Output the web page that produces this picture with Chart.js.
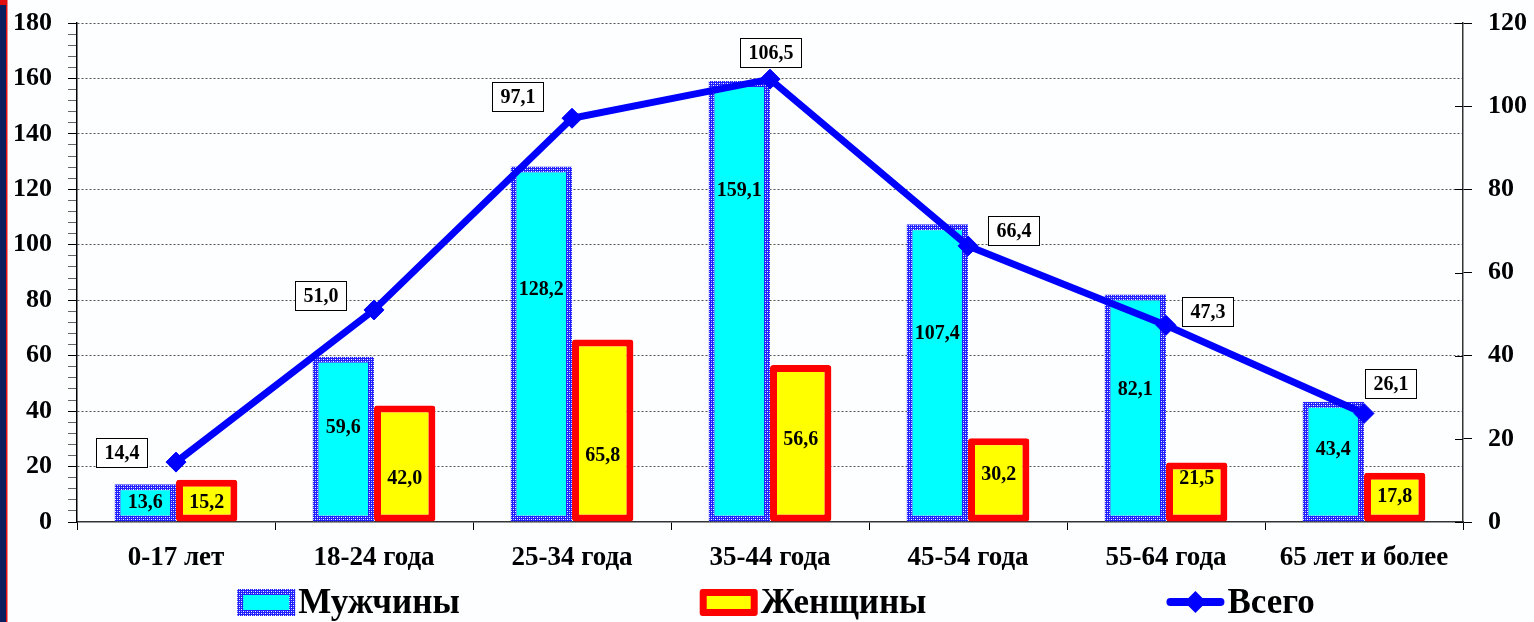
<!DOCTYPE html>
<html>
<head>
<meta charset="utf-8">
<script src="https://cdn.jsdelivr.net/npm/chart.js@4.4.1/dist/chart.umd.min.js"></script>
<style>
  html, body { margin: 0; padding: 0; background: #ffffff; }
  canvas { display: block; }
</style>
</head>
<body>
<canvas id="chart" width="1534" height="622"></canvas>
<script>
// Age groups and values
const ageGroups = ['0-17 лет', '18-24 года', '25-34 года', '35-44 года', '45-54 года', '55-64 года', '65 лет и более'];
const menValues = [13.6, 59.6, 128.2, 159.1, 107.4, 82.1, 43.4];
const womenValues = [15.2, 42.0, 65.8, 56.6, 30.2, 21.5, 17.8];
const totalValues = [14.4, 51.0, 97.1, 106.5, 66.4, 47.3, 26.1];
const seriesNames = ['Мужчины', 'Женщины', 'Всего'];

const SERIF = "'Liberation Serif', 'Times New Roman', serif";
const fmt = v => v.toFixed(1).replace('.', ',');

// Blue/white speckled fill used for the men's bar outline
function speckle() {
  const c = document.createElement('canvas');
  c.width = 4; c.height = 4;
  const g = c.getContext('2d');
  g.fillStyle = '#1f1fff'; g.fillRect(0, 0, 4, 4);
  g.fillStyle = '#ffffff'; g.fillRect(1, 1, 1, 1); g.fillRect(3, 3, 1, 1);
  g.fillStyle = '#a0a0ff'; g.fillRect(3, 1, 1, 1); g.fillRect(1, 3, 1, 1);
  return g.createPattern(c, 'repeat');
}
const menBorder = speckle();

// Page background and the framed strip on the left edge
const backdrop = {
  id: 'backdrop',
  beforeDraw(chart) {
    const ctx = chart.ctx;
    ctx.save();
    ctx.fillStyle = '#fdfeff';
    ctx.fillRect(0, 0, chart.width, chart.height);
    ctx.fillStyle = '#0b1f5e';
    ctx.fillRect(0, 0, 6, chart.height);
    ctx.fillStyle = '#e01010';
    ctx.fillRect(6, 0, 1.5, chart.height);
    ctx.fillRect(0, 0, 7, 5);
    ctx.restore();
  },
  // right-axis ticks also reach into the plot
  afterDraw(chart) {
    const ctx = chart.ctx;
    const s = chart.scales.y1;
    ctx.save();
    ctx.strokeStyle = '#000';
    ctx.lineWidth = 1;
    s.ticks.forEach(t => {
      const y = Math.round(s.getPixelForValue(t.value)) + 0.5;
      ctx.beginPath();
      ctx.moveTo(s.left - 8, y);
      ctx.lineTo(s.left, y);
      ctx.stroke();
    });
    ctx.restore();
  }
};

// Value labels: inside the bars and in boxes next to the total line
const valueLabels = {
  id: 'valueLabels',
  afterDatasetsDraw(chart, args, opts) {
    const ctx = chart.ctx;
    const yScale = chart.scales.y;
    ctx.save();
    ctx.font = 'bold 20px ' + SERIF;
    ctx.textAlign = 'center';
    ctx.textBaseline = 'middle';
    ctx.fillStyle = '#000';
    [[0, opts.menLevels], [1, opts.womenLevels]].forEach(([di, levels]) => {
      const values = chart.data.datasets[di].data;
      chart.getDatasetMeta(di).data.forEach((bar, i) => {
        ctx.fillText(fmt(values[i]), bar.x, yScale.getPixelForValue(levels[i]));
      });
    });
    const totals = chart.data.datasets[2].data;
    chart.getDatasetMeta(2).data.forEach((pt, i) => {
      const [dx, dy] = opts.totalShift[i];
      const text = fmt(totals[i]);
      const w = Math.round(ctx.measureText(text).width + 16);
      const h = 29;
      const x0 = Math.round(pt.x + dx - w / 2) + 0.5;
      const y0 = Math.round(pt.y + dy - h / 2) + 0.5;
      ctx.fillStyle = '#ffffff';
      ctx.fillRect(x0, y0, w, h);
      ctx.strokeStyle = '#000';
      ctx.lineWidth = 1;
      ctx.strokeRect(x0, y0, w, h);
      ctx.fillStyle = '#000';
      ctx.fillText(text, x0 + w / 2, y0 + h / 2 + 1);
    });
    ctx.restore();
  }
};

// Legend row along the bottom edge
const bottomLegend = {
  id: 'bottomLegend',
  afterDraw(chart, args, opts) {
    const ctx = chart.ctx;
    const area = chart.chartArea;
    const markW = 58, markGap = 3, itemGap = opts.itemGap;
    const cy = chart.height - 20;
    ctx.save();
    ctx.font = 'bold 35px ' + SERIF;
    const widths = seriesNames.map(n => markW + markGap + ctx.measureText(n).width);
    const total = widths.reduce((a, b) => a + b, 0) + itemGap * (widths.length - 1);
    let x = (area.left + area.right) / 2 - total / 2 + 6;
    seriesNames.forEach((name, i) => {
      if (i === 0) {
        ctx.fillStyle = menBorder;
        ctx.fillRect(x, cy - 13, markW, 27);
        ctx.fillStyle = '#00ffff';
        ctx.fillRect(x + 6, cy - 7, markW - 12, 15);
      } else if (i === 1) {
        ctx.fillStyle = '#ff0000';
        ctx.beginPath();
        ctx.roundRect(x, cy - 13, markW, 27, 3);
        ctx.fill();
        ctx.fillStyle = '#ffff00';
        ctx.fillRect(x + 7, cy - 6, markW - 14, 13);
      } else {
        ctx.strokeStyle = '#0000ff';
        ctx.lineWidth = 8;
        ctx.lineCap = 'round';
        ctx.beginPath();
        ctx.moveTo(x + 4, cy);
        ctx.lineTo(x + markW - 4, cy);
        ctx.stroke();
        ctx.fillStyle = '#0000ff';
        const mx = x + markW / 2;
        ctx.beginPath();
        ctx.moveTo(mx, cy - 11); ctx.lineTo(mx + 11, cy);
        ctx.lineTo(mx, cy + 11); ctx.lineTo(mx - 11, cy);
        ctx.closePath();
        ctx.fill();
      }
      ctx.fillStyle = '#000';
      ctx.textAlign = 'left';
      ctx.textBaseline = 'alphabetic';
      ctx.fillText(name, x + markW + markGap, cy + 11);
      x += widths[i] + itemGap;
    });
    ctx.restore();
  }
};

const tickFont = { family: SERIF, size: 26, weight: 'bold' };

// vertical axes: fixed width, no extra room reserved above/below for end labels
const fixVertical = width => s => { s.width = width; s.paddingTop = 0; s.paddingBottom = 0; };

new Chart(document.getElementById('chart'), {
  data: {
    labels: ageGroups,
    datasets: [
      {
        type: 'bar', label: seriesNames[0], data: menValues, yAxisID: 'y',
        backgroundColor: '#00ffff', borderColor: menBorder, borderWidth: 6,
        borderSkipped: false, categoryPercentage: 0.62, barPercentage: 1, order: 1
      },
      {
        type: 'bar', label: seriesNames[1], data: womenValues, yAxisID: 'y',
        backgroundColor: '#ffff00', borderColor: '#ff0000', borderWidth: 7,
        borderSkipped: false, borderRadius: 3, categoryPercentage: 0.62, barPercentage: 1, order: 2
      },
      {
        type: 'line', label: seriesNames[2], data: totalValues, yAxisID: 'y1',
        borderColor: '#0000ff', borderWidth: 7, tension: 0,
        pointStyle: 'rectRot', pointRadius: 10, pointBorderWidth: 1,
        pointBackgroundColor: '#0000ff', pointBorderColor: '#0000ff', order: 0
      }
    ]
  },
  options: {
    responsive: false,
    animation: false,
    devicePixelRatio: 1,
    layout: { padding: { top: 23, left: 0, right: 0, bottom: 0 } },
    plugins: {
      legend: { display: false },
      tooltip: { enabled: false },
      valueLabels: {
        menLevels: [6.9, 34, 83.8, 119.6, 67.9, 47.7, 26],
        womenLevels: [6.9, 15.5, 23.9, 29.6, 17, 15.5, 9],
        totalShift: [[-55, -10], [-54, -14], [-55, -22], [0, -27], [45, -15], [41, -14], [26, -30]]
      },
      bottomLegend: { itemGap: 240 }
    },
    scales: {
      x: {
        offset: true,
        grid: { offset: true, drawOnChartArea: false, tickLength: 8, color: '#000', tickColor: '#000' },
        border: { color: '#333', width: 1.5 },
        ticks: { font: { family: SERIF, size: 27, weight: 'bold' }, color: '#000', padding: 12, maxRotation: 0, autoSkip: false },
        afterFit(s) { s.height = 100; }
      },
      y: {
        position: 'left', min: 0, max: 180,
        ticks: {
          stepSize: 4, autoSkip: false, color: '#000', font: tickFont, padding: 16,
          callback: v => (v % 20 === 0 ? String(v) : '')
        },
        grid: {
          color: c => (c.tick && c.tick.value % 20 === 0 && c.tick.value > 0 ? '#555' : 'rgba(0,0,0,0)'),
          tickColor: c => (c.tick && c.tick.value % 20 === 0 ? '#000' : '#666'),
          tickLength: 9, tickBorderDash: [], lineWidth: 1
        },
        border: { color: '#000', width: 1.5, dash: [2, 2] },
        afterFit: fixVertical(77)
      },
      y1: {
        position: 'right', min: 0, max: 120,
        ticks: { stepSize: 20, color: '#000', font: tickFont, padding: 16 },
        grid: { drawOnChartArea: false, tickLength: 9, tickColor: '#000' },
        border: { color: '#333', width: 1.5 },
        afterFit: fixVertical(71)
      }
    }
  },
  plugins: [backdrop, valueLabels, bottomLegend]
});
</script>
</body>
</html>
